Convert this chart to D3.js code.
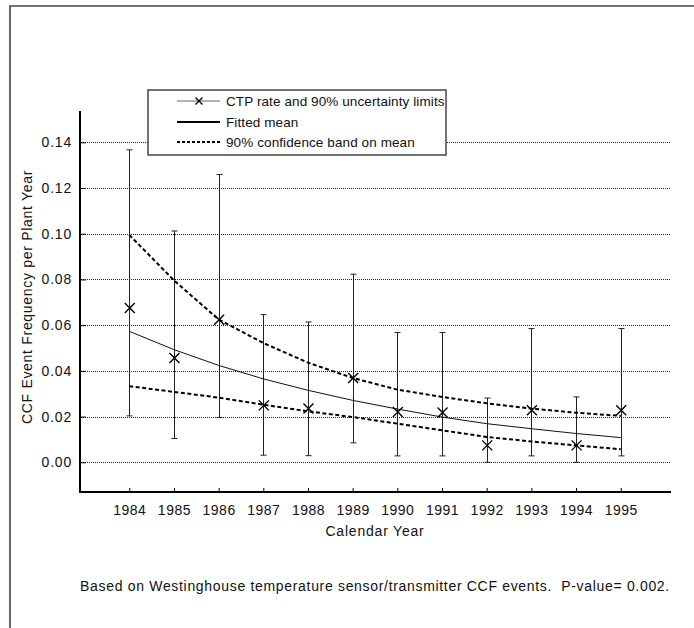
<!DOCTYPE html>
<html>
<head>
<meta charset="utf-8">
<script src="https://cdn.jsdelivr.net/npm/d3@7"></script>
<style>
  html, body { margin: 0; padding: 0; background: #fff; }
  svg text { font-family: Arial, "Liberation Sans", Helvetica, sans-serif; fill: #111; }
</style>
</head>
<body>
<div id="chart"></div>
<script>
// ---- data ----
const years = [1984, 1985, 1986, 1987, 1988, 1989, 1990, 1991, 1992, 1993, 1994, 1995];
const ctpRate = [0.0675, 0.0456, 0.0624, 0.0249, 0.0235, 0.0369, 0.0220, 0.0218, 0.0074, 0.0228, 0.0074, 0.0228];
const ctpUpper = [0.1367, 0.1012, 0.1259, 0.0646, 0.0614, 0.0823, 0.0568, 0.0568, 0.0281, 0.0585, 0.0286, 0.0585];
const ctpLower = [0.0203, 0.0104, 0.0196, 0.0031, 0.0029, 0.0085, 0.0028, 0.0028, 0.0000, 0.0028, 0.0000, 0.0028];
const fittedMean = [0.0573, 0.0493, 0.0424, 0.0365, 0.0315, 0.0271, 0.0233, 0.0198, 0.0169, 0.0147, 0.0126, 0.0108];
const bandUpper = [0.0995, 0.0796, 0.0625, 0.0522, 0.0436, 0.0369, 0.0318, 0.0286, 0.0258, 0.0235, 0.0217, 0.0203];
const bandLower = [0.0333, 0.0308, 0.0283, 0.0252, 0.0223, 0.0198, 0.0169, 0.0140, 0.0111, 0.0091, 0.0074, 0.0057];
const yTicks = [0.00, 0.02, 0.04, 0.06, 0.08, 0.10, 0.12, 0.14];
const legendLabels = ["CTP rate and 90% uncertainty limits", "Fitted mean", "90% confidence band on mean"];
const xTitle = "Calendar Year";
const yTitle = "CCF Event Frequency per Plant Year";
const footnote = "Based on Westinghouse temperature sensor/transmitter CCF events.  P-value= 0.002.";

// ---- layout ----
const W = 694, H = 628;
const svg = d3.select("#chart").append("svg").attr("width", W).attr("height", H);

const x = d3.scaleLinear().domain([1982.875, 1996.125]).range([79, 671]);
const y = d3.scaleLinear().domain([-0.013, 0.1537]).range([492, 111]);

// outer frame (top and left edges)
svg.append("path")
  .attr("d", `M10,${H} L10,6 L${W},6`)
  .attr("fill", "none").attr("stroke", "#444").attr("stroke-width", 1.6);

// gridlines
const grid = svg.append("g");
grid.selectAll("line").data(yTicks).join("line")
  .attr("x1", x.range()[0]).attr("x2", x.range()[1])
  .attr("y1", d => Math.round(y(d)) + 0.5).attr("y2", d => Math.round(y(d)) + 0.5)
  .attr("stroke", "#222").attr("stroke-width", 1).attr("stroke-dasharray", "1,1");

// y axis
const yAxis = d3.axisLeft(y).tickValues(yTicks).tickFormat(d3.format(".2f")).tickSize(-6).tickPadding(8);
const gy = svg.append("g").attr("transform", "translate(80,0)").call(yAxis);
gy.select(".domain").remove();
gy.selectAll(".tick line").attr("stroke", "#000").attr("stroke-width", 1);
gy.selectAll(".tick text").attr("font-size", 14).attr("fill", "#111")
  .style("letter-spacing", "0.8px")
  .style("font-family", "Arial, 'Liberation Sans', sans-serif");
svg.append("line").attr("x1", 80).attr("x2", 80).attr("y1", 111).attr("y2", 493)
  .attr("stroke", "#000").attr("stroke-width", 2);

// x axis
const xAxis = d3.axisBottom(x).tickValues(years).tickFormat(d3.format("d")).tickSize(-4).tickPadding(13);
const gx = svg.append("g").attr("transform", "translate(0,492)").call(xAxis);
gx.select(".domain").remove();
gx.selectAll(".tick line").attr("stroke", "#000").attr("stroke-width", 1);
gx.selectAll(".tick text").attr("font-size", 14).attr("fill", "#111")
  .style("letter-spacing", "0.5px")
  .style("font-family", "Arial, 'Liberation Sans', sans-serif");
svg.append("line").attr("x1", 79).attr("x2", 671).attr("y1", 492).attr("y2", 492)
  .attr("stroke", "#000").attr("stroke-width", 2);

// error bars
const idx = d3.range(years.length);
const eb = svg.append("g").attr("stroke", "#222").attr("stroke-width", 1).attr("fill", "none");
eb.selectAll("line.v").data(idx).join("line").attr("class", "v")
  .attr("x1", i => Math.round(x(years[i])) + 0.5).attr("x2", i => Math.round(x(years[i])) + 0.5)
  .attr("y1", i => y(ctpUpper[i])).attr("y2", i => y(ctpLower[i]));
eb.selectAll("line.t").data(idx).join("line").attr("class", "t")
  .attr("x1", i => Math.round(x(years[i])) - 2.5).attr("x2", i => Math.round(x(years[i])) + 3.5)
  .attr("y1", i => y(ctpUpper[i])).attr("y2", i => y(ctpUpper[i]));
eb.selectAll("line.b").data(idx).join("line").attr("class", "b")
  .attr("x1", i => Math.round(x(years[i])) - 2.5).attr("x2", i => Math.round(x(years[i])) + 3.5)
  .attr("y1", i => y(ctpLower[i])).attr("y2", i => y(ctpLower[i]));

// fitted mean and band
const line = arr => d3.line().x((d, i) => x(years[i])).y(d => y(d))(arr);
svg.append("path").attr("d", line(fittedMean)).attr("fill", "none")
  .attr("stroke", "#111").attr("stroke-width", 1);
svg.append("path").attr("d", line(bandUpper)).attr("fill", "none")
  .attr("stroke", "#000").attr("stroke-width", 2).attr("stroke-dasharray", "4,2.5");
svg.append("path").attr("d", line(bandLower)).attr("fill", "none")
  .attr("stroke", "#000").attr("stroke-width", 2).attr("stroke-dasharray", "4,2.5");

// x markers
const cross = (cx, cy, s) => `M${cx - s},${cy - s}L${cx + s},${cy + s}M${cx - s},${cy + s}L${cx + s},${cy - s}`;
svg.append("g").selectAll("path").data(idx).join("path")
  .attr("d", i => cross(x(years[i]) + 0.5, y(ctpRate[i]), 5))
  .attr("stroke", "#000").attr("stroke-width", 1.4).attr("fill", "none");

// legend
const lg = svg.append("g");
lg.append("rect").attr("x", 148).attr("y", 90).attr("width", 298).attr("height", 65)
  .attr("fill", "#fff").attr("stroke", "#444").attr("stroke-width", 1.5);
const rowY = [101, 122, 142];
lg.append("line").attr("x1", 177).attr("x2", 220).attr("y1", rowY[0]).attr("y2", rowY[0])
  .attr("stroke", "#666").attr("stroke-width", 1);
lg.append("path").attr("d", cross(199, rowY[0], 3.5)).attr("stroke", "#000").attr("stroke-width", 1.4);
lg.append("line").attr("x1", 177).attr("x2", 220).attr("y1", rowY[1]).attr("y2", rowY[1])
  .attr("stroke", "#000").attr("stroke-width", 2);
lg.append("line").attr("x1", 177).attr("x2", 220).attr("y1", rowY[2]).attr("y2", rowY[2])
  .attr("stroke", "#000").attr("stroke-width", 2).attr("stroke-dasharray", "3,2");
lg.selectAll("text").data(legendLabels).join("text")
  .attr("x", 226).attr("y", (d, i) => rowY[i] + 5)
  .attr("font-size", 13.5).style("letter-spacing", "0.1px").text(d => d);

// titles
svg.append("text").attr("x", 375).attr("y", 536).attr("text-anchor", "middle")
  .attr("font-size", 14).style("letter-spacing", "0.8px").text(xTitle);
svg.append("text").attr("transform", "translate(32,297) rotate(-90)").attr("text-anchor", "middle")
  .attr("font-size", 14).style("letter-spacing", "0.7px").text(yTitle);
svg.append("text").attr("x", 375).attr("y", 591).attr("text-anchor", "middle")
  .attr("font-size", 14).style("letter-spacing", "0.68px").style("white-space", "pre").text(footnote);
</script>
</body>
</html>
